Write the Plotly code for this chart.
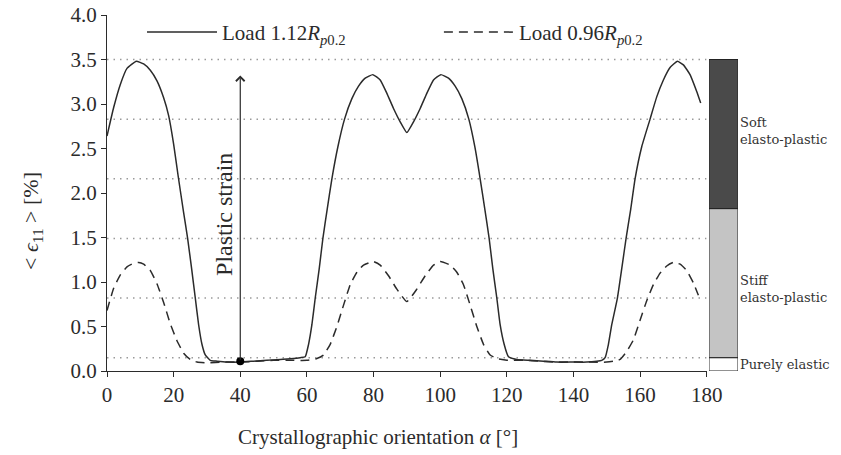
import plotly.graph_objects as go

# Load 1.12 R_p0.2 (solid)
alpha_hi = [0, 2, 4, 6, 8.8, 11, 13, 15, 17, 18.5, 20, 21.4, 23, 24.2, 25.4, 26.5, 27.5, 28.5,
            29.5, 31, 33, 36, 40, 44, 48, 52, 56, 58, 59.5, 60.5, 61.5, 62.5, 63.7, 64.8, 66.1,
            67.5, 69.3, 71.3, 73.5, 75.5, 77.5, 79.8, 82, 84, 86, 88, 90, 92, 94, 96, 98, 100.2,
            102.5, 104.5, 106.5, 108.6, 110.4, 112, 113.4, 114.7, 115.8, 117, 118, 119.2, 120.5,
            123, 127, 131, 135, 140, 144, 147, 148.5, 149.5, 150.5, 151.5, 153.2, 154.5, 155.8,
            157.2, 158.5, 160.5, 163, 165, 167, 169, 171.2, 173, 175, 177, 178.2]
eps_hi = [2.64, 2.96, 3.22, 3.40, 3.48, 3.45, 3.38, 3.26, 3.07, 2.87, 2.55, 2.18, 1.78, 1.49,
          1.15, 0.82, 0.52, 0.30, 0.18, 0.12, 0.11, 0.10, 0.10, 0.11, 0.12, 0.13, 0.14, 0.15,
          0.16, 0.30, 0.52, 0.82, 1.15, 1.49, 1.82, 2.16, 2.52, 2.83, 3.06, 3.20, 3.29, 3.33,
          3.27, 3.12, 2.95, 2.80, 2.68, 2.80, 2.95, 3.12, 3.27, 3.33, 3.29, 3.20, 3.06, 2.83,
          2.52, 2.16, 1.82, 1.49, 1.15, 0.82, 0.52, 0.30, 0.16, 0.13, 0.12, 0.11, 0.10, 0.10,
          0.10, 0.11, 0.12, 0.15, 0.30, 0.52, 0.82, 1.15, 1.49, 1.82, 2.16, 2.52, 2.83, 3.08,
          3.27, 3.41, 3.48, 3.44, 3.33, 3.14, 3.01]

# Load 0.96 R_p0.2 (dashed)
alpha_lo = [0, 2, 4, 6, 8, 9.5, 11, 13, 15, 17, 19, 21, 23, 25, 27, 30, 35, 40, 45, 50, 55, 60,
            63, 65, 67, 69, 71, 73, 75, 77, 80, 82, 84.5, 87, 90, 93, 95.5, 98, 100, 103, 105,
            107, 109, 111, 113, 115, 117, 120, 125, 130, 135, 140, 145, 150, 152, 154, 156, 158,
            160, 162, 164, 166, 168, 170, 172, 174, 176, 177.5]
eps_lo = [0.68, 0.93, 1.08, 1.17, 1.21, 1.22, 1.20, 1.13, 0.98, 0.77, 0.53, 0.34, 0.20, 0.13,
          0.10, 0.09, 0.10, 0.10, 0.11, 0.12, 0.12, 0.12, 0.14, 0.18, 0.30, 0.50, 0.74, 0.97,
          1.11, 1.19, 1.23, 1.19, 1.07, 0.92, 0.78, 0.92, 1.07, 1.19, 1.23, 1.19, 1.11, 0.97,
          0.74, 0.50, 0.30, 0.18, 0.14, 0.12, 0.12, 0.11, 0.10, 0.10, 0.10, 0.10, 0.11, 0.13,
          0.22, 0.35, 0.57, 0.79, 0.97, 1.10, 1.18, 1.22, 1.20, 1.13, 0.99, 0.85]

# dotted reference levels
levels = [0.15, 0.82, 1.49, 2.16, 2.83, 3.5]

# regime bar
regimes = ["Purely elastic", "Stiff<br>elasto-plastic", "Soft<br>elasto-plastic"]
regime_lo = [0.0, 0.15, 1.825]
regime_hi = [0.15, 1.825, 3.5]
regime_label_y = [0.07, 0.92, 2.70]
regime_colors = ["#ffffff", "#c4c4c4", "#4a4a4a"]

x_ticks = list(range(0, 181, 20))
y_ticks = [0.0, 0.5, 1.0, 1.5, 2.0, 2.5, 3.0, 3.5, 4.0]

arrow_x = 40
arrow_y0 = 0.11
arrow_y1 = 3.32

FONT = "Liberation Serif"
INK = "#2b2b2b"
FS = 21

fig = go.Figure()

# dotted level lines
gx, gy = [], []
for lv in levels:
    gx += [0, 180, None]
    gy += [lv, lv, None]
fig.add_trace(go.Scatter(x=gx, y=gy, mode="lines", showlegend=False, hoverinfo="skip",
                         line=dict(color="#9a9a9a", width=1.5, dash="1.5px,5px")))

fig.add_trace(go.Scatter(x=alpha_hi, y=eps_hi, mode="lines", legend="legend",
                         name="Load 1.12<i>R</i><sub><i>p</i>0.2</sub>",
                         line=dict(color=INK, width=1.5, shape="spline", smoothing=0.4)))
fig.add_trace(go.Scatter(x=alpha_lo, y=eps_lo, mode="lines", legend="legend2",
                         name="Load 0.96<i>R</i><sub><i>p</i>0.2</sub>",
                         line=dict(color=INK, width=1.5, dash="9px,6px", shape="spline",
                                   smoothing=0.4)))

# arrow base point
fig.add_trace(go.Scatter(x=[arrow_x], y=[arrow_y0], mode="markers", showlegend=False,
                         marker=dict(color="black", size=8)))

# regime bar
for name, lo, hi, ly, col in zip(regimes, regime_lo, regime_hi, regime_label_y, regime_colors):
    fig.add_trace(go.Bar(x=[0.5], y=[hi - lo], base=[lo], width=[1.0], xaxis="x2", yaxis="y",
                         marker=dict(color=col, line=dict(color="#222", width=1)),
                         showlegend=False, hoverinfo="skip"))
    fig.add_annotation(x=1.0, y=ly, xref="paper", yref="y",
                       text=name, showarrow=False, xanchor="left", align="left",
                       xshift=0, font=dict(family="DejaVu Serif", size=13, color="#333"))

fig.add_annotation(x=arrow_x, y=arrow_y1, ax=arrow_x, ay=arrow_y0, xref="x", yref="y",
                   axref="x", ayref="y", showarrow=True, arrowhead=4, arrowsize=1.4,
                   arrowwidth=1.2, arrowcolor=INK, text="")
fig.add_annotation(x=35.3, y=1.76, xref="x", yref="y", text="Plastic strain", textangle=-90,
                   showarrow=False, font=dict(family=FONT, size=24, color=INK))

# axis titles
fig.add_annotation(x=0.4295, y=-0.184, xref="paper", yref="paper",
                   text="Crystallographic orientation <i>α</i> [°]", showarrow=False,
                   xanchor="center", yanchor="middle", font=dict(family=FONT, size=FS, color=INK))
fig.add_annotation(x=-0.118, y=0.42, xref="paper", yref="paper",
                   text="< <i>ϵ</i><sub>11</sub> > [%]", showarrow=False, textangle=-90,
                   xanchor="center", yanchor="middle", font=dict(family=FONT, size=22, color=INK))

leg_common = dict(orientation="h", yanchor="middle", xanchor="left", y=0.951,
                  bgcolor="rgba(0,0,0,0)", itemwidth=70,
                  font=dict(family=FONT, size=FS, color=INK))

fig.update_layout(
    width=841, height=455,
    margin=dict(l=107, r=103, t=13, b=84),
    paper_bgcolor="white", plot_bgcolor="white",
    font=dict(family=FONT, size=FS, color=INK),
    barmode="overlay",
    showlegend=True,
    legend=dict(x=0.0555, **leg_common),
    legend2=dict(x=0.526, **leg_common),
    xaxis=dict(domain=[0, 0.9504], range=[0, 180], tickvals=x_ticks, showgrid=False,
               zeroline=False, showline=True, linecolor=INK, linewidth=1.3,
               ticks="outside", ticklen=5, tickcolor=INK, automargin=False,
               tickfont=dict(family=FONT, size=FS, color=INK)),
    xaxis2=dict(domain=[0.954, 1.0], range=[0, 1], visible=False, anchor="y", automargin=False),
    yaxis=dict(domain=[0, 1], range=[0, 4], tickvals=y_ticks, tickformat=".1f", showgrid=False,
               zeroline=False, showline=True, linecolor=INK, linewidth=1.3,
               ticks="outside", ticklen=5, tickcolor=INK, automargin=False,
               tickfont=dict(family=FONT, size=FS, color=INK)),
)

fig.write_html("out.html")
